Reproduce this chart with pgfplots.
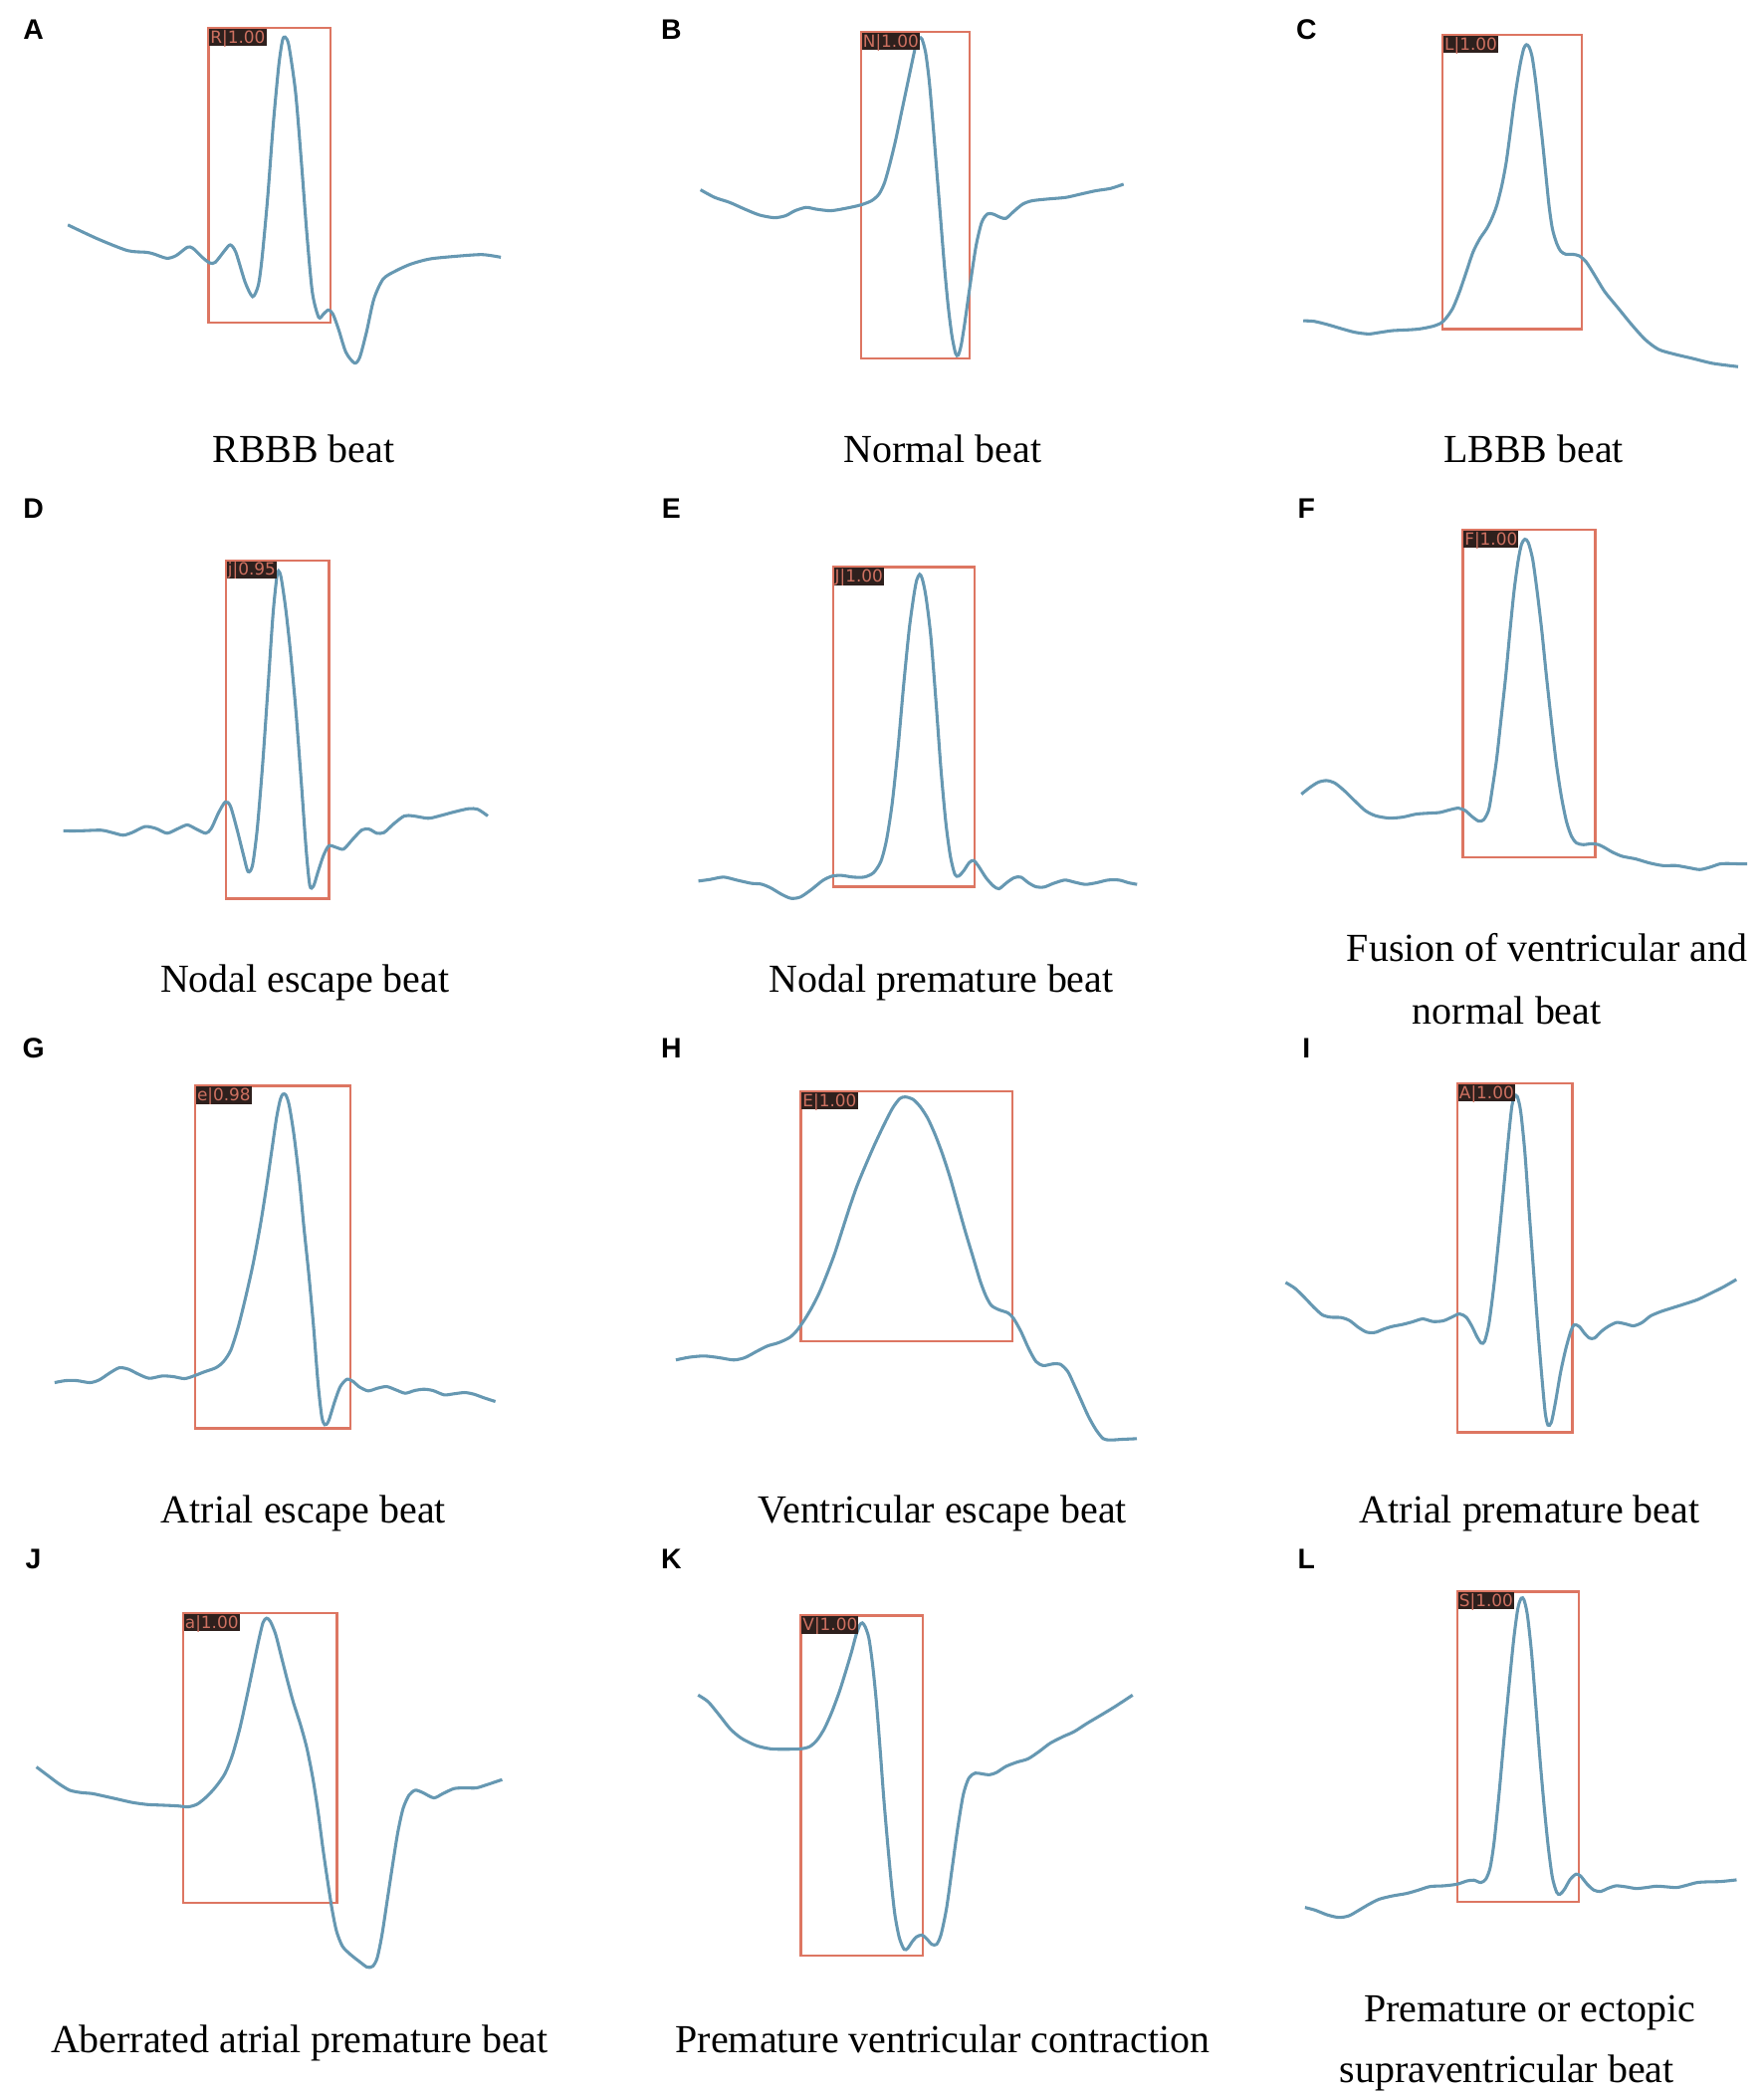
\documentclass[border=0pt]{standalone}
\usepackage{pgfplots}
\pgfplotsset{compat=1.18}
\usepackage{fontspec}
\setmainfont{Liberation Serif}
\newfontfamily\lsans{Liberation Sans}
\newfontfamily\tagfont{DejaVu Sans}
\definecolor{curvec}{RGB}{102,152,178}
\definecolor{boxc}{RGB}{221,118,98}
\definecolor{tagbg}{RGB}{46,32,29}
\definecolor{tagtx}{RGB}{205,112,96}
\def\s{0.35pt}
\pgfplotsset{
  panel/.style={scale only axis, anchor=north west, y dir=reverse, clip=false,
    xtick=\empty, ytick=\empty,
    axis line style={draw=boxc, line width=0.6pt}},
  ecg/.style={draw=curvec, line width=0.8pt, smooth, tension=0.45, no markers}
}
\tikzset{
  dtag/.style={fill=tagbg, text=tagtx, font=\tagfont\fontsize{4.4}{4.5}\selectfont, inner xsep=0.3pt, inner ysep=0.45pt, text height=3.3pt, text depth=0.3pt, anchor=north west},
  captxt/.style={font=\fontsize{10.4}{12}\selectfont, anchor=base},
  plet/.style={font=\lsans\bfseries\fontsize{7.4}{8}\selectfont, anchor=center}
}
\begin{document}
\begin{tikzpicture}
\useasboundingbox (0,0) rectangle (461.65pt,-548.8pt);
% ---------------- A
\begin{axis}[panel, at={({156*\s},{-21*\s})}, width=31.85pt, height=77pt, xmin=557, xmax=883, ymin=88, ymax=970]
\addplot[ecg] coordinates {(180,678) (260,720) (340,755) (390,760) (410,765) (445,778) (470,770) (500,745) (515,748) (540,775) (560,792) (575,790) (600,755) (615,738) (630,760) (655,850) (675,893) (690,860) (700,780) (715,600) (730,380) (745,200) (755,125) (762,115) (772,140) (790,280) (805,480) (820,700) (835,880) (852,955) (865,945) (878,933) (890,945) (905,990) (925,1060) (948,1092) (962,1075) (980,1000) (1000,900) (1025,840) (1060,815) (1100,795) (1150,780) (1220,772) (1290,767) (1340,775)};
\node[dtag] at (axis cs:557,88) {R|1.00};
\end{axis}
% ---------------- B
\begin{axis}[panel, at={({644*\s},{-24*\s})}, width=28.35pt, height=85.4pt, xmin=652, xmax=942, ymin=97, ymax=1080]
\addplot[ecg] coordinates {(222,572) (260,595) (300,610) (340,630) (380,648) (420,656) (450,650) (475,635) (505,625) (530,630) (570,635) (610,628) (650,618) (680,605) (700,585) (715,550) (730,490) (745,420) (760,340) (775,260) (790,180) (800,130) (808,115) (815,118) (825,160) (835,250) (845,380) (855,520) (865,660) (875,800) (885,920) (895,1010) (905,1065) (912,1070) (920,1040) (930,970) (945,850) (960,740) (975,670) (990,645) (1005,645) (1025,655) (1040,658) (1060,638) (1085,615) (1110,605) (1150,600) (1200,595) (1240,585) (1280,575) (1320,568) (1355,555)};
\node[dtag] at (axis cs:652,97) {N|1.00};
\end{axis}
% ---------------- C
\begin{axis}[panel, at={({1079*\s},{-26*\s})}, width=36.4pt, height=77pt, xmin=620, xmax=1032, ymin=103, ymax=993]
\addplot[ecg] coordinates {(207,968) (240,970) (280,980) (320,992) (360,1003) (400,1008) (430,1004) (470,998) (510,996) (550,993) (590,985) (615,975) (630,960) (650,930) (670,880) (690,820) (710,760) (730,720) (750,690) (765,660) (780,620) (795,560) (808,490) (820,400) (830,320) (840,250) (850,190) (860,145) (868,133) (876,140) (885,170) (895,240) (905,330) (915,420) (925,520) (935,620) (945,690) (958,735) (970,758) (985,767) (1005,767) (1025,772) (1045,790) (1070,830) (1100,880) (1140,930) (1180,980) (1220,1025) (1260,1055) (1310,1070) (1360,1082) (1420,1097) (1495,1107)};
\node[dtag] at (axis cs:620,103) {L|1.00};
\end{axis}
% ---------------- D
\begin{axis}[panel, at={({169*\s},{-419*\s})}, width=26.95pt, height=88.55pt, xmin=600, xmax=880, ymin=188, ymax=1210]
\addplot[ecg] coordinates {(158,1005) (200,1005) (260,1003) (290,1010) (320,1018) (345,1010) (380,992) (410,998) (440,1012) (470,998) (495,987) (520,1000) (545,1012) (560,998) (580,950) (598,918) (612,930) (630,1000) (648,1080) (660,1128) (672,1110) (685,1000) (700,800) (715,560) (728,350) (738,240) (743,220) (750,240) (762,330) (775,460) (790,640) (805,860) (818,1060) (828,1170) (838,1172) (850,1130) (865,1080) (880,1050) (900,1055) (920,1060) (945,1030) (970,1002) (990,1000) (1010,1012) (1030,1010) (1055,985) (1085,960) (1110,960) (1150,967) (1180,960) (1220,948) (1260,938) (1285,940) (1312,960)};
\node[dtag] at (axis cs:600,188) {j|0.95};
\end{axis}
% ---------------- E
\begin{axis}[panel, at={({623*\s},{-424*\s})}, width=37.1pt, height=83.65pt, xmin=577, xmax=955, ymin=210, ymax=1172]
\addplot[ecg] coordinates {(218,1155) (250,1150) (285,1143) (320,1152) (360,1162) (385,1164) (410,1175) (440,1195) (465,1207) (490,1203) (520,1180) (550,1153) (575,1140) (600,1138) (630,1143) (660,1143) (685,1130) (705,1095) (720,1030) (735,920) (750,760) (765,570) (780,400) (792,300) (800,250) (808,232) (815,245) (825,300) (838,420) (852,620) (865,820) (878,980) (890,1080) (902,1135) (912,1140) (925,1125) (940,1100) (952,1093) (965,1110) (985,1145) (1005,1170) (1020,1178) (1040,1160) (1060,1145) (1078,1143) (1098,1160) (1118,1172) (1140,1173) (1165,1162) (1195,1152) (1220,1158) (1250,1165) (1280,1160) (1310,1152) (1340,1152) (1365,1160) (1388,1165)};
\node[dtag] at (axis cs:577,210) {J|1.00};
\end{axis}
% ---------------- F
\begin{axis}[panel, at={({1094*\s},{-396*\s})}, width=34.65pt, height=85.75pt, xmin=678, xmax=1070, ymin=96, ymax=1083]
\addplot[ecg] coordinates {(200,893) (225,873) (250,857) (275,852) (300,860) (330,885) (360,915) (390,943) (420,958) (460,965) (500,962) (540,953) (580,950) (610,948) (640,940) (665,935) (685,942) (705,960) (725,974) (740,970) (755,940) (765,880) (778,790) (790,680) (805,540) (818,400) (830,280) (842,190) (852,140) (862,125) (872,135) (885,185) (898,280) (912,400) (925,530) (940,670) (955,800) (970,900) (985,975) (1000,1020) (1015,1040) (1035,1045) (1060,1042) (1080,1045) (1100,1055) (1120,1067) (1150,1080) (1190,1088) (1230,1100) (1270,1108) (1310,1108) (1350,1115) (1380,1120) (1410,1113) (1440,1103) (1470,1102) (1500,1103) (1520,1103)};
\node[dtag] at (axis cs:678,96) {F|1.00};
\end{axis}
% ---------------- G
\begin{axis}[panel, at={({146*\s},{-812*\s})}, width=40.6pt, height=89.6pt, xmin=519, xmax=937, ymin=153, ymax=1186]
\addplot[ecg] coordinates {(140,1048) (170,1042) (200,1042) (235,1048) (260,1040) (290,1018) (315,1003) (340,1008) (365,1022) (395,1035) (430,1028) (460,1030) (490,1036) (515,1028) (545,1015) (575,1003) (595,985) (615,950) (635,880) (655,790) (675,690) (695,570) (712,450) (725,350) (738,250) (748,195) (755,178) (763,180) (772,210) (785,300) (800,440) (812,580) (825,720) (838,880) (850,1050) (860,1150) (868,1175) (878,1165) (895,1105) (910,1060) (928,1038) (945,1045) (960,1060) (985,1073) (1010,1065) (1035,1060) (1060,1070) (1085,1080) (1110,1072) (1135,1068) (1160,1072) (1190,1085) (1215,1082) (1245,1078) (1270,1083) (1300,1095) (1328,1105)};
\node[dtag] at (axis cs:519,153) {e|0.98};
\end{axis}
% ---------------- H
\begin{axis}[panel, at={({599*\s},{-816*\s})}, width=55.3pt, height=65.45pt, xmin=490, xmax=1056, ymin=168, ymax=924]
\addplot[ecg] coordinates {(155,980) (190,972) (230,968) (270,973) (310,980) (340,973) (370,955) (400,938) (430,928) (460,912) (480,890) (500,858) (520,820) (540,775) (560,720) (580,660) (600,590) (620,520) (640,455) (660,400) (685,335) (710,275) (735,220) (755,190) (770,185) (790,192) (810,215) (830,250) (850,300) (870,360) (890,430) (910,510) (930,590) (950,665) (970,740) (985,785) (1000,815) (1020,828) (1045,838) (1060,855) (1080,895) (1100,945) (1120,985) (1140,997) (1165,992) (1185,993) (1205,1015) (1220,1050) (1240,1100) (1260,1150) (1280,1190) (1300,1218) (1320,1222) (1350,1220) (1390,1218)};
\node[dtag] at (axis cs:490,168) {E|1.00};
\end{axis}
% ---------------- I
\begin{axis}[panel, at={({1090*\s},{-810*\s})}, width=30.1pt, height=91.35pt, xmin=662, xmax=1000, ymin=145, ymax=1200]
\addplot[ecg] coordinates {(157,747) (185,765) (215,795) (240,822) (265,845) (290,852) (320,853) (345,862) (370,882) (395,897) (420,898) (445,888) (470,880) (500,874) (530,866) (560,857) (590,865) (620,863) (645,852) (668,842) (688,852) (705,880) (720,912) (732,930) (742,925) (755,870) (770,750) (785,600) (800,440) (812,310) (822,215) (830,185) (838,185) (848,230) (860,350) (872,520) (885,700) (898,880) (910,1030) (920,1140) (928,1178) (938,1170) (950,1110) (965,1020) (980,950) (995,895) (1005,875) (1020,880) (1035,900) (1050,915) (1065,915) (1085,895) (1105,880) (1130,868) (1155,872) (1180,878) (1205,868) (1230,848) (1260,835) (1290,825) (1330,812) (1370,798) (1410,778) (1445,760) (1482,738)};
\node[dtag] at (axis cs:662,145) {A|1.00};
\end{axis}
% ---------------- J
\begin{axis}[panel, at={({137*\s},{-1206*\s})}, width=40.25pt, height=75.95pt, xmin=487, xmax=903, ymin=211, ymax=1085]
\addplot[ecg] coordinates {(90,675) (120,700) (150,725) (180,745) (210,752) (240,755) (270,762) (310,772) (350,782) (390,788) (430,790) (470,792) (500,795) (525,787) (550,765) (575,735) (600,695) (620,640) (640,560) (658,470) (675,380) (690,300) (703,240) (713,227) (723,237) (737,275) (752,340) (768,410) (785,480) (805,550) (822,620) (838,710) (852,810) (865,920) (878,1020) (890,1105) (902,1170) (918,1215) (940,1240) (965,1262) (985,1278) (1000,1275) (1012,1250) (1025,1180) (1040,1070) (1055,960) (1068,870) (1082,800) (1098,760) (1115,745) (1135,752) (1165,768) (1190,755) (1220,740) (1250,738) (1280,738) (1310,728) (1350,713)};
\node[dtag] at (axis cs:487,211) {a|1.00};
\end{axis}
% ---------------- K
\begin{axis}[panel, at={({599*\s},{-1208*\s})}, width=31.85pt, height=88.9pt, xmin=491, xmax=820, ymin=221, ymax=1243]
\addplot[ecg] coordinates {(213,460) (240,480) (270,520) (300,562) (330,590) (370,612) (410,622) (450,623) (490,622) (515,615) (535,595) (555,560) (575,510) (595,450) (612,390) (628,330) (640,280) (650,250) (657,243) (665,255) (675,290) (685,370) (695,480) (705,620) (715,770) (725,900) (735,1020) (745,1120) (757,1190) (770,1225) (780,1222) (790,1205) (803,1188) (818,1182) (830,1192) (845,1210) (858,1210) (870,1180) (885,1100) (900,980) (915,860) (930,760) (945,710) (962,695) (980,697) (1000,700) (1020,693) (1045,675) (1075,662) (1105,652) (1135,630) (1165,605) (1200,585) (1230,570) (1265,545) (1300,522) (1340,495) (1388,460)};
\node[dtag] at (axis cs:491,221) {V|1.00};
\end{axis}
% ---------------- L
\begin{axis}[panel, at={({1090*\s},{-1190*\s})}, width=31.85pt, height=81.2pt, xmin=661, xmax=1021, ymin=150, ymax=1083]
\addplot[ecg] coordinates {(210,1100) (240,1108) (275,1122) (310,1130) (340,1125) (370,1108) (400,1090) (430,1075) (470,1065) (510,1058) (545,1048) (580,1037) (620,1035) (660,1030) (690,1020) (710,1018) (730,1025) (745,1015) (758,980) (770,900) (785,750) (800,580) (815,420) (828,290) (840,200) (850,170) (858,175) (868,220) (880,330) (892,480) (905,650) (918,800) (930,920) (942,1010) (955,1055) (965,1060) (978,1045) (995,1015) (1012,1000) (1025,1005) (1045,1030) (1065,1048) (1085,1052) (1105,1043) (1130,1035) (1160,1038) (1190,1043) (1220,1040) (1250,1036) (1280,1038) (1310,1040) (1340,1033) (1370,1025) (1400,1023) (1440,1022) (1487,1017)};
\node[dtag] at (axis cs:661,150) {S|1.00};
\end{axis}
% ---------------- panel letters
\node[plet] at ({25*\s},{-22*\s}) {A};
\node[plet] at ({502*\s},{-22*\s}) {B};
\node[plet] at ({977*\s},{-22*\s}) {C};
\node[plet] at ({25*\s},{-380*\s}) {D};
\node[plet] at ({502*\s},{-380*\s}) {E};
\node[plet] at ({977*\s},{-380*\s}) {F};
\node[plet] at ({25*\s},{-784*\s}) {G};
\node[plet] at ({502*\s},{-784*\s}) {H};
\node[plet] at ({977*\s},{-784*\s}) {I};
\node[plet] at ({25*\s},{-1166*\s}) {J};
\node[plet] at ({502*\s},{-1166*\s}) {K};
\node[plet] at ({977*\s},{-1166*\s}) {L};
% ---------------- captions
\node[captxt] at ({227*\s},{-346*\s}) {RBBB beat};
\node[captxt] at ({705*\s},{-346*\s}) {Normal beat};
\node[captxt] at ({1147*\s},{-346*\s}) {LBBB beat};
\node[captxt] at ({228*\s},{-742*\s}) {Nodal escape beat};
\node[captxt] at ({704*\s},{-742*\s}) {Nodal premature beat};
\node[captxt] at ({1157*\s},{-719*\s}) {Fusion of ventricular and};
\node[captxt] at ({1127*\s},{-766*\s}) {normal beat};
\node[captxt] at ({227*\s},{-1139*\s}) {Atrial escape beat};
\node[captxt] at ({705*\s},{-1139*\s}) {Ventricular escape beat};
\node[captxt] at ({1144*\s},{-1139*\s}) {Atrial premature beat};
\node[captxt] at ({224*\s},{-1535*\s}) {Aberrated atrial premature beat};
\node[captxt] at ({705*\s},{-1535*\s}) {Premature ventricular contraction};
\node[captxt] at ({1144*\s},{-1512*\s}) {Premature or ectopic};
\node[captxt] at ({1127*\s},{-1557*\s}) {supraventricular beat};
\end{tikzpicture}
\end{document}
